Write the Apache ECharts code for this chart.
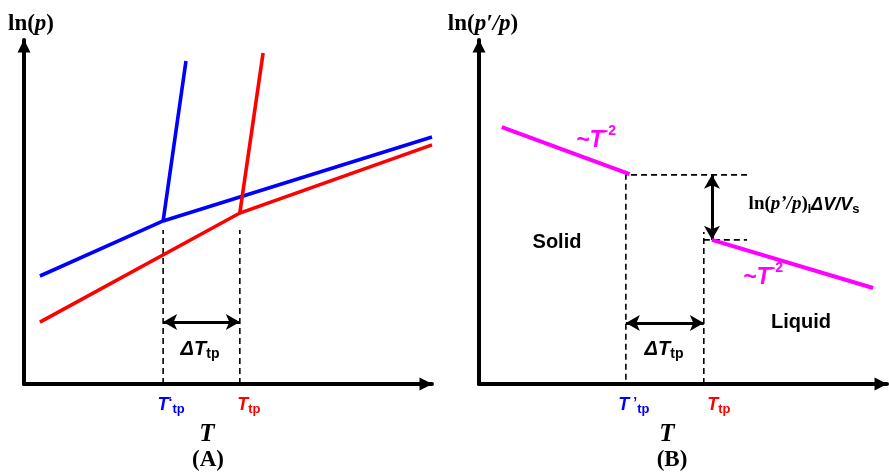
<!DOCTYPE html>
<html>
<head>
<meta charset="utf-8">
<script src="https://cdn.jsdelivr.net/npm/echarts@6/dist/echarts.min.js"></script>
<style>
  html, body { margin: 0; padding: 0; background: #ffffff; }
  #chart { width: 889px; height: 473px; }
</style>
</head>
<body>
<div id="chart"></div>
<script>
// Schematic units: temperature and log-pressure both run 0–100 on each panel.

// Panel A – vapour-pressure curves of the two phases
const blueCurve = [[3.9, 31.4], [34.1, 47.4], [100, 71.8]];
const blueSteep = [[34.1, 47.4], [39.7, 93.9]];
const redCurve = [[3.9, 18.0], [52.9, 49.7], [100, 69.5]];
const redSteep = [[52.9, 49.7], [58.6, 96.2]];
const tripleA = [34.1, 52.9];          // T'tp, Ttp
const guideTopA = 44.8;                // upper end of dashed guides
const gapArrowA = 18.0;                // level of the ΔTtp arrow

// Panel B – ratio ln(p'/p) across the triple point
const solidBranch = [[5.6, 74.7], [36.9, 61.0]];
const liquidBranch = [[57.1, 41.9], [96.6, 27.9]];
const tripleB = [36.0, 55.1];          // T'tp, Ttp
const jumpLevels = [60.8, 41.9];       // ends of the step
const jumpX = 57.1;
const stepRight = 65.7;
const guideTopB = 44.2;
const gapArrowB = 17.7;

const BLUE = '#0000ff', RED = '#ff0000', MAGENTA = '#ff00ff';
const SANS = 'Liberation Sans', SERIF = 'Liberation Serif';

const chart = echarts.init(document.getElementById('chart'), null, { renderer: 'canvas' });

function axisLineStyle() {
  return {
    show: true,
    onZero: false,
    lineStyle: { color: '#000', width: 4 },
    symbol: ['none', 'triangle'],
    symbolSize: [13, 13],
    symbolOffset: [0, -6]
  };
}

// shiftFirst / shiftSecond nudge each tick label to the right of its tick
function tickRich(shiftFirst, shiftSecond) {
  const base = { fontFamily: SANS, fontWeight: 'bold', verticalAlign: 'top' };
  return {
    bT: Object.assign({}, base, { color: BLUE, fontStyle: 'italic', fontSize: 18, lineHeight: 20, padding: [0, 0, 0, 2 * shiftFirst] }),
    bq: Object.assign({}, base, { color: BLUE, fontSize: 14, lineHeight: 14 }),
    bs: Object.assign({}, base, { color: BLUE, fontSize: 13, lineHeight: 13, padding: [7, 0, 0, 0] }),
    rT: Object.assign({}, base, { color: RED, fontStyle: 'italic', fontSize: 18, lineHeight: 20, padding: [0, 0, 0, 2 * shiftSecond] }),
    rs: Object.assign({}, base, { color: RED, fontSize: 13, lineHeight: 13, padding: [7, 0, 0, 0] })
  };
}

function xAxisFor(grid, ticks, primeText, shiftFirst, shiftSecond) {
  return {
    gridIndex: grid, type: 'value', min: 0, max: 100,
    axisLine: axisLineStyle(),
    axisTick: { show: false },
    splitLine: { show: false },
    axisLabel: {
      show: true,
      customValues: ticks,
      margin: 12,
      align: 'center',
      formatter: function (v) {
        return v === ticks[0] ? '{bT|T}{bq|' + primeText + '}{bs|tp}' : '{rT|T}{rs|tp}';
      },
      rich: tickRich(shiftFirst, shiftSecond)
    }
  };
}

function yAxisFor(grid, nameRichText, padLeft) {
  return {
    gridIndex: grid, type: 'value', min: 0, max: 100,
    axisLine: axisLineStyle(),
    axisTick: { show: false },
    axisLabel: { show: false },
    splitLine: { show: false },
    name: nameRichText,
    nameLocation: 'end',
    nameGap: 4,
    nameTextStyle: {
      padding: [0, 0, 0, padLeft],
      rich: {
        r: { fontFamily: SERIF, fontWeight: 'bold', fontSize: 23, color: '#000' },
        i: { fontFamily: SERIF, fontWeight: 'bold', fontStyle: 'italic', fontSize: 23, color: '#000' }
      }
    }
  };
}

function curve(xi, data, color, width) {
  return {
    type: 'line', xAxisIndex: xi, yAxisIndex: xi, data: data,
    symbol: 'none', silent: true, animation: false,
    lineStyle: { color: color, width: width, cap: 'butt', join: 'miter' },
    z: 5
  };
}

function dashed(xi, data) {
  return {
    type: 'line', xAxisIndex: xi, yAxisIndex: xi, data: data,
    symbol: 'none', silent: true, animation: false,
    lineStyle: { color: '#000', width: 1.6, type: [6, 4] },
    z: 3
  };
}

function doubleArrow(from, to) {
  return {
    silent: true, animation: false,
    symbol: ['arrow', 'arrow'],
    symbolSize: [12, 14],
    label: { show: false },
    lineStyle: { color: '#000', width: 3, type: 'solid' },
    data: [[{ coord: from }, { coord: to }]]
  };
}

// Panel A dashed guides and ΔTtp arrow
const guideA1 = dashed(0, [[tripleA[0], 0], [tripleA[0], guideTopA]]);
const guideA2 = dashed(0, [[tripleA[1], 0], [tripleA[1], guideTopA]]);
guideA2.markLine = doubleArrow([tripleA[0], gapArrowA], [tripleA[1], gapArrowA]);

// Panel B step guides and arrows
const stepTop = dashed(1, [[stepRight, jumpLevels[0]], [tripleB[0], jumpLevels[0]], [tripleB[0], 0]]);
const stepBottom = dashed(1, [[tripleB[1], jumpLevels[1]], [stepRight, jumpLevels[1]]]);
const guideB2 = dashed(1, [[tripleB[1], 0], [tripleB[1], guideTopB]]);
stepTop.markLine = doubleArrow([jumpX, jumpLevels[0]], [jumpX, jumpLevels[1]]);
guideB2.markLine = doubleArrow([tripleB[0], gapArrowB], [tripleB[1], gapArrowB]);

// zrender rich tokens inside graphic texts take a full font string
const labelRich = {
  T: { font: 'italic bold 20px "Liberation Sans"', lineHeight: 22, verticalAlign: 'top', fill: '#000' },
  s: { font: 'bold 14px "Liberation Sans"', lineHeight: 14, padding: [8, 0, 0, 0], verticalAlign: 'top', fill: '#000' }
};

const powerRich = {
  m: { font: 'italic bold 23px "Liberation Sans"', lineHeight: 24, padding: [5, 0, 0, 0], verticalAlign: 'top', fill: MAGENTA },
  p: { font: 'bold 14px "Liberation Sans"', lineHeight: 14, verticalAlign: 'top', fill: MAGENTA }
};

const stepRich = {
  a: { font: 'bold 19px "Liberation Serif"', lineHeight: 20, verticalAlign: 'top', fill: '#000' },
  b: { font: 'italic bold 19px "Liberation Serif"', lineHeight: 20, verticalAlign: 'top', fill: '#000' },
  c: { font: 'bold 12px "Liberation Serif"', lineHeight: 12, padding: [9, 0, 0, 0], verticalAlign: 'top', fill: '#000' },
  d: { font: 'italic bold 18px "Liberation Sans"', lineHeight: 20, padding: [1, 0, 0, 0], verticalAlign: 'top', fill: '#000' },
  e: { font: 'bold 13px "Liberation Sans"', lineHeight: 13, padding: [8, 0, 0, 0], verticalAlign: 'top', fill: '#000' }
};

function txt(x, y, text, font, extra) {
  return {
    type: 'text', x: x, y: y, silent: true,
    style: Object.assign({ text: text, font: font, fill: '#000', align: 'center', verticalAlign: 'middle' }, extra || {})
  };
}

const option = {
  animation: false,
  backgroundColor: '#ffffff',
  grid: [
    { left: 24, right: 457, top: 40, bottom: 89, containLabel: false, outerBoundsMode: 'none' },
    { left: 479, right: 2, top: 40, bottom: 89, containLabel: false, outerBoundsMode: 'none' }
  ],
  xAxis: [xAxisFor(0, tripleA, '\u2018', 8, 9), xAxisFor(1, tripleB, ' \u2019', 8, 15)],
  yAxis: [
    yAxisFor(0, '{r|ln(}{i|p}{r|)}', 14),
    yAxisFor(1, '{r|ln(}{i|p\u2032/p}{r|)}', 8)
  ],
  series: [
    guideA1, guideA2,
    curve(0, blueCurve, BLUE, 3.6),
    curve(0, blueSteep, BLUE, 3.6),
    curve(0, redCurve, RED, 3.6),
    curve(0, redSteep, RED, 3.6),
    stepTop, stepBottom, guideB2,
    curve(1, solidBranch, MAGENTA, 4),
    curve(1, liquidBranch, MAGENTA, 4)
  ],
  graphic: [
    // axis titles and panel tags
    txt(207, 435, 'T', 'italic bold 25px "Liberation Serif"'),
    txt(208, 460, '(A)', 'bold 23px "Liberation Serif"'),
    txt(667, 435, 'T', 'italic bold 25px "Liberation Serif"'),
    txt(672, 460, '(B)', 'bold 23px "Liberation Serif"'),
    // ΔTtp labels
    txt(200, 350, '{T|\u0394T}{s|tp}', 'bold 20px "Liberation Sans"', { rich: labelRich }),
    txt(664, 350, '{T|\u0394T}{s|tp}', 'bold 20px "Liberation Sans"', { rich: labelRich }),
    // phase names
    txt(557, 242, 'Solid', 'bold 20px "Liberation Sans"'),
    txt(801, 322, 'Liquid', 'bold 20px "Liberation Sans"'),
    // slope annotations
    txt(596, 136, '{m|~T}{p|-2}', 'bold 23px "Liberation Sans"', { rich: powerRich }),
    txt(763, 273, '{m|~T}{p|-2}', 'bold 23px "Liberation Sans"', { rich: powerRich }),
    // step height
    txt(804, 205, '{a|ln(}{b|p\u2019/p}{a|)}{c|l}{d|\u0394V/V}{e|s}', 'bold 19px "Liberation Serif"', { rich: stepRich })
  ]
};

chart.setOption(option);
</script>
</body>
</html>
